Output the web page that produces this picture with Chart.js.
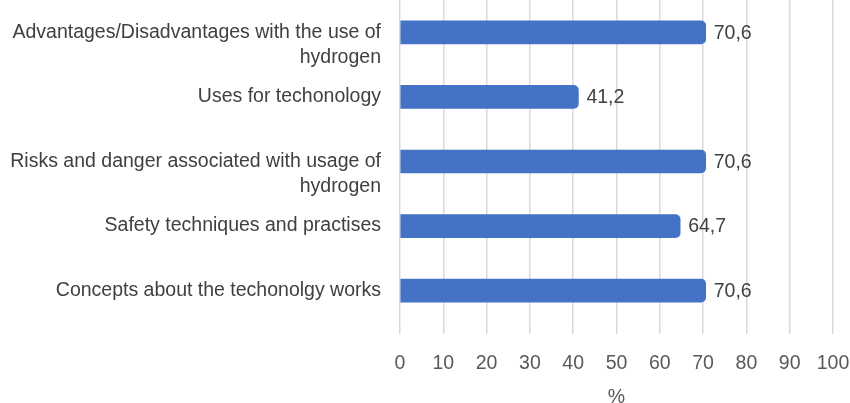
<!DOCTYPE html>
<html>
<head>
<meta charset="utf-8">
<script src="https://cdn.jsdelivr.net/npm/chart.js@4"></script>
<style>
  html, body { margin: 0; padding: 0; background: #fff; overflow: hidden; }
  #wrap { width: 850px; height: 412px; position: relative; }
</style>
</head>
<body>
<div id="wrap"><canvas id="graf1"></canvas></div>
<script>
// temas (rótulos em várias linhas)
var temas = [
    ['Advantages/Disadvantages with the use of', 'hydrogen'],
    'Uses for techonology',
    ['Risks and danger associated with usage of', 'hydrogen'],
    'Safety techniques and practises',
    'Concepts about the techonolgy works'
];
// percentuais
var percentual = [70.6, 41.2, 70.6, 64.7, 70.6];
// marcas do eixo X
var escalaX = [0, 10, 20, 30, 40, 50, 60, 70, 80, 90, 100];

var fonte = { family: '"Liberation Sans", Arial, sans-serif', size: 19.5, lineHeight: 1.28 };

// rótulo com o valor na ponta da barra
var rotulos = {
    id: 'rotulos',
    afterDatasetsDraw: function (chart) {
        var ctx = chart.ctx;
        var meta = chart.getDatasetMeta(0);
        ctx.save();
        ctx.font = fonte.size + 'px ' + fonte.family;
        ctx.fillStyle = '#404040';
        ctx.textAlign = 'left';
        ctx.textBaseline = 'middle';
        meta.data.forEach(function (bar, i) {
            var txt = percentual[i].toFixed(1).replace('.', ',');
            ctx.fillText(txt, bar.x + 8, bar.y + 1);
        });
        ctx.restore();
    }
};

var graf1 = new Chart(document.getElementById('graf1'), {
    type: 'bar',
    data: {
        labels: temas,
        datasets: [{
            label: '%',
            data: percentual,
            backgroundColor: '#4472C4',
            borderColor: '#4472C4',
            barThickness: 23,
            borderRadius: 5,
            borderSkipped: 'start'
        }]
    },
    options: {
        indexAxis: 'y',
        responsive: true,
        maintainAspectRatio: false,
        animation: false,
        layout: { padding: { top: 0, right: 17, left: 0, bottom: 0 } },
        plugins: {
            legend: { display: false },
            tooltip: { enabled: false }
        },
        scales: {
            x: {
                min: 0,
                max: 100,
                afterBuildTicks: function (s) {
                    s.ticks = escalaX.map(function (v) { return { value: v }; });
                },
                afterFit: function (s) {
                    s.height = 89;
                    s.paddingLeft = 0;
                    s.paddingRight = 0;
                },
                border: { display: false },
                grid: {
                    color: '#d9d9d9',
                    lineWidth: 1.5,
                    drawTicks: true,
                    tickLength: 11,
                    tickColor: '#d9d9d9'
                },
                ticks: {
                    color: '#595959',
                    font: fonte,
                    padding: 17,
                    maxRotation: 0
                },
                title: {
                    display: true,
                    text: '%',
                    color: '#595959',
                    font: fonte,
                    padding: { top: 0, bottom: 2 }
                }
            },
            y: {
                afterFit: function (s) {
                    s.width = 400;
                    s.paddingTop = 0;
                    s.paddingBottom = 0;
                },
                border: { display: false },
                grid: { display: false },
                ticks: {
                    color: '#404040',
                    font: fonte,
                    padding: 11,
                    crossAlign: 'near',
                    autoSkip: false,
                    // rótulo de duas linhas: a primeira fica na altura da barra
                    callback: function (v, i) {
                        var t = temas[i];
                        return Array.isArray(t) ? [''].concat(t) : t;
                    }
                }
            }
        }
    },
    plugins: [rotulos]
});
</script>
</body>
</html>
